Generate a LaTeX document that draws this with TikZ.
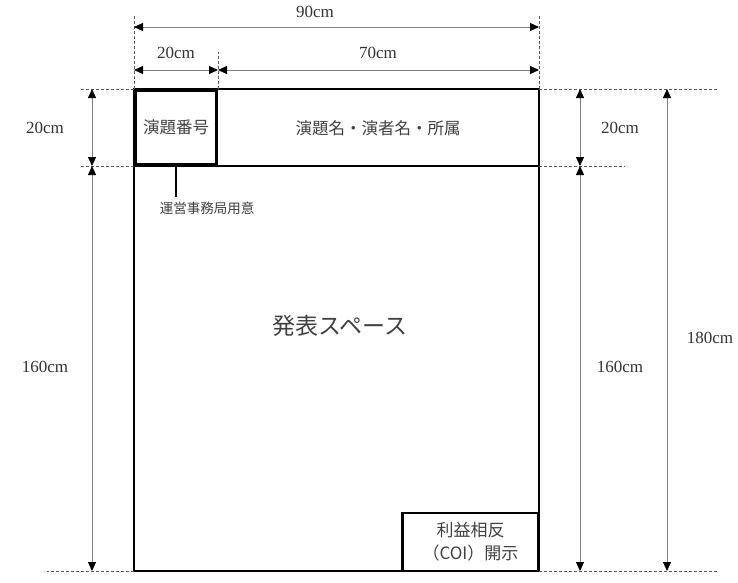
\documentclass[tikz,border=0pt]{standalone}
\usepackage{fontspec}
\setmainfont{Liberation Serif}
\newfontfamily\jp{Noto Sans CJK JP}
\usetikzlibrary{arrows.meta}
\begin{document}
\begin{tikzpicture}[x=1pt,y=-1pt,
  tip/.tip={Triangle[length=9pt,width=8pt,color=black]},
  dimline/.style={draw=black!50, line width=1pt, tip-tip},
  ext/.style={draw=black!65, dash pattern=on 3pt off 2pt, line width=0.8pt},
  dimlabel/.style={font=\fontsize{17}{19}\selectfont, text=black!80, inner sep=1pt},
  jplabel/.style={font=\jp\fontsize{16.5}{19}\selectfont, text=black!75}]
\useasboundingbox (0,0) rectangle (738,582);
% corners
\coordinate (TL) at (134,89);
\coordinate (TR) at (539,89);
\coordinate (BL) at (134,571);
\coordinate (BR) at (539,571);
\coordinate (HL) at (134,166);
\coordinate (HR) at (539,166);
\coordinate (NT) at (218,89);
% main frame
\draw[line width=2pt] (TL) rectangle (BR);
\draw[line width=1.3pt] (HL) -- (HR);
% boxes and texts
\node[draw, line width=3.2pt, inner sep=0pt, minimum width=81pt, minimum height=75pt, jplabel] (numbox) at (176,127.5) {演題番号};
\node[jplabel] (title) at (378,128) {演題名・演者名・所属};
\node[jplabel, font=\jp\fontsize{23}{26}\selectfont] (space) at (340,326) {発表スペース};
\node[draw, line width=2.2pt, inner sep=0pt, minimum width=136pt, minimum height=58pt, align=center, jplabel, font=\jp\fontsize{17}{23}\selectfont] (coi) at (470.5,542) {利益相反\\（COI）開示};
\node[jplabel, font=\jp\fontsize{13.5}{15}\selectfont] (staff) at (207,208) {運営事務局用意};
\coordinate (stafftop) at (176,197);
\draw[line width=2pt] (numbox.south) -- (stafftop);
% extension lines
\coordinate (e1) at (134,15);
\coordinate (e2) at (218,52);
\coordinate (e3) at (539,15);
\draw[ext] (TL) -- (e1);
\draw[ext] (NT) -- (e2);
\draw[ext] (TR) -- (e3);
\coordinate (l1) at (80,89);
\coordinate (l2) at (80,166);
\coordinate (l3) at (47,571);
\draw[ext] (TL) -- (l1);
\draw[ext] (HL) -- (l2);
\draw[ext] (BL) -- (l3);
\coordinate (r1) at (717,89);
\coordinate (r2) at (625,166);
\coordinate (r3) at (717,571);
\draw[ext] (TR) -- (r1);
\draw[ext] (HR) -- (r2);
\draw[ext] (BR) -- (r3);
% horizontal dimensions
\coordinate (h90a) at (134,27);
\coordinate (h90b) at (539,27);
\coordinate (h20a) at (134,70);
\coordinate (h20b) at (218,70);
\coordinate (h70b) at (539,70);
\draw[dimline] (h90a) -- (h90b);
\draw[dimline] (h20a) -- (h20b);
\draw[dimline] (h20b) -- (h70b);
\node[dimlabel] (l90) at (315,12) {90cm};
\node[dimlabel] (l20h) at (176,53) {20cm};
\node[dimlabel] (l70) at (378,53) {70cm};
% left vertical dimensions
\coordinate (va1) at (92,89);
\coordinate (va2) at (92,166);
\coordinate (va3) at (92,571);
\draw[dimline] (va1) -- (va2);
\draw[dimline] (va2) -- (va3);
\node[dimlabel] (l20l) at (45,128) {20cm};
\node[dimlabel] (l160l) at (45,367) {160cm};
% right vertical dimensions
\coordinate (vb1) at (580,89);
\coordinate (vb2) at (580,166);
\coordinate (vb3) at (580,571);
\draw[dimline] (vb1) -- (vb2);
\draw[dimline] (vb2) -- (vb3);
\node[dimlabel] (l20r) at (620,128) {20cm};
\node[dimlabel] (l160r) at (620,367) {160cm};
\coordinate (vc1) at (667,89);
\coordinate (vc2) at (667,571);
\draw[dimline] (vc1) -- (vc2);
\node[dimlabel] (l180) at (710,338) {180cm};
\end{tikzpicture}
\end{document}
